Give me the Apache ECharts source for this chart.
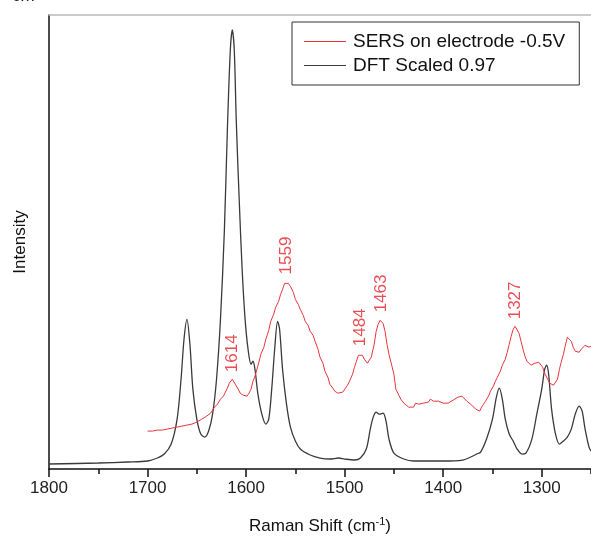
<!DOCTYPE html>
<html>
<head>
<meta charset="utf-8">
<script src="https://cdn.jsdelivr.net/npm/echarts@6/dist/echarts.min.js"></script>
<style>html,body{margin:0;padding:0;background:#fff}#c{width:591px;height:540px}</style>
</head>
<body>
<div id="c"></div>
<script>
// DFT Scaled 0.97 : [wavenumber, intensity]
const dftX = [1800,1750,1720,1700,1690,1683,1676,1670,1666,1663,1660,1657,1654,1650,1646,1642,1638,1634,1630,1626,1622,1619,1616,1614,1612,1610,1607,1604,1601,1598,1595,1593,1591,1588,1584,1580,1577,1574,1571,1568,1566,1563,1559,1555,1550,1545,1535,1525,1515,1506,1500,1490,1484,1478,1474,1471,1468,1465,1461,1458,1455,1450,1440,1430,1400,1380,1372,1366,1362,1356,1350,1346,1343,1340,1337,1333,1329,1325,1320,1316,1310,1305,1300,1297,1295,1293,1290,1286,1282,1278,1274,1270,1266,1262,1259,1256,1252,1250];
const dftY = [5,6,7,8,11,15,25,50,90,130,150,125,80,50,35,32,38,55,90,150,240,340,420,440,420,350,270,200,150,120,105,108,100,75,55,45,50,80,120,148,140,100,65,42,28,20,14,11,10,11,10,9,11,20,40,52,57,55,56,48,30,16,10,8,8,9,12,15,17,30,50,72,81,70,50,35,28,20,15,16,30,55,80,100,104,95,60,35,25,28,32,40,55,63,58,40,22,18];
// SERS on electrode -0.5V
const sersX = [1700,1695,1690,1685,1680,1675,1670,1665,1660,1655,1650,1645,1640,1636,1632,1629,1626,1623,1621,1619,1617,1614,1611,1608,1606,1603,1601,1599,1597,1595,1593,1591,1589,1587,1585,1582,1580,1577,1575,1572,1570,1567,1565,1563,1561,1559,1557,1555,1552,1550,1547,1545,1542,1540,1537,1535,1532,1530,1527,1525,1522,1520,1517,1515,1512,1510,1507,1505,1502,1500,1497,1495,1492,1490,1488,1486,1484,1482,1480,1477,1475,1473,1470,1468,1466,1464,1463,1461,1459,1457,1455,1452,1450,1448,1445,1443,1440,1438,1435,1433,1430,1428,1425,1423,1420,1418,1415,1413,1410,1408,1405,1403,1400,1398,1395,1393,1390,1388,1385,1383,1381,1379,1376,1374,1371,1370,1367,1365,1363,1361,1359,1357,1354,1352,1349,1347,1345,1342,1340,1337,1335,1333,1331,1329,1327,1325,1323,1321,1319,1317,1315,1313,1311,1309,1307,1305,1303,1301,1299,1297,1294,1292,1290,1288,1286,1284,1282,1280,1278,1276,1274,1272,1270,1268,1266,1264,1262,1260,1258,1256,1254,1252,1250];
const sersY = [38,38,39,39,40,41,42,43,44,45,47,50,53,56,62,65,70,73,77,81,86,90,85,80,76,74,72,73,76,80,88,93,100,107,115,122,130,139,148,155,162,168,175,180,186,188,186,183,177,170,165,160,154,148,144,138,134,128,120,112,106,98,92,85,81,78,76,75,77,78,84,88,95,102,108,114,116,114,110,106,107,112,125,138,145,149,150,146,138,125,115,103,95,80,74,70,66,64,62,63,62,66,65,67,66,68,67,70,68,67,68,68,66,67,66,67,69,70,72,74,73,71,68,66,64,63,60,58,58,62,65,68,73,78,83,88,92,98,104,110,117,125,133,140,143,141,136,128,120,113,108,106,104,105,106,107,107,106,102,96,90,86,85,84,86,90,100,108,115,124,132,133,128,122,118,116,117,120,122,124,123,122,123,125];
// peak annotations (wavenumber)
const peakLabels = [1614,1559,1484,1463,1327];
const xMajorTicks = [1800,1700,1600,1500,1400,1300];
const seriesNames = ['SERS on electrode -0.5V','DFT Scaled 0.97'];

const RED = '#e8353c', BLACK = '#3a3a3a';
const FONT = 'Liberation Sans, Arial, sans-serif';
const dft = dftX.map((x,i)=>[x,dftY[i]]);
const sers = sersX.map((x,i)=>[x,sersY[i]]);
const peaks = peakLabels.map(p=>{ const i = sersX.indexOf(p); return [p, sersY[i]]; });

const chart = echarts.init(document.getElementById('c'), null, {renderer:'canvas'});
chart.setOption({
  animation:false,
  backgroundColor:'#fff',
  textStyle:{fontFamily:FONT},
  grid:{left:49, right:0, top:15, bottom:71},
  graphic:[{type:'text', left:12, top:-12, style:{text:'cm⁻¹', fontSize:17, fontFamily:FONT, fill:'#222'}}],
  legend:{
    data:seriesNames, orient:'vertical', left:292, top:22,
    padding:[10,14,10,12], itemGap:5, itemWidth:42, itemHeight:14,
    borderColor:'#333', borderWidth:1, backgroundColor:'#fff',
    textStyle:{fontSize:19, color:'#111', fontFamily:FONT, padding:[0,0,0,2]},
    icon:'path://M0,7L42,7L42,8L0,8Z'
  },
  xAxis:[
    {type:'value', min:1250, max:1800, inverse:true,
     name:'Raman Shift (cm{sup|-1}{p|)}', nameLocation:'middle', nameGap:47,
     nameTextStyle:{fontSize:17, color:'#111', fontFamily:FONT,
       rich:{sup:{fontSize:11, verticalAlign:'top', padding:[0,0,10,0], color:'#111', fontFamily:FONT}, p:{fontSize:17,color:'#111',fontFamily:FONT}}},
     axisLine:{show:true, onZero:false, lineStyle:{color:'#111', width:1.5}},
     axisTick:{show:true, customValues:xMajorTicks, length:8, lineStyle:{color:'#111', width:1.5}},
     axisLabel:{customValues:xMajorTicks, fontSize:17, color:'#222', margin:11, fontFamily:FONT, formatter:v=>String(v)},
     splitLine:{show:false}},
    {type:'value', min:1250, max:1800, inverse:true, interval:50, position:'bottom',
     axisLine:{show:false}, axisLabel:{show:false}, splitLine:{show:false},
     axisTick:{show:true, length:5, lineStyle:{color:'#111', width:1.5}}},
    {type:'value', min:1250, max:1800, inverse:true, position:'top',
     axisLine:{show:true, onZero:false, lineStyle:{color:'#bbb', width:1.5}},
     axisTick:{show:false}, axisLabel:{show:false}, splitLine:{show:false}}
  ],
  yAxis:{type:'value', min:0, max:455, name:'Intensity', nameLocation:'middle', nameGap:20,
     nameTextStyle:{fontSize:17, color:'#111', fontFamily:FONT},
     axisLine:{show:true, lineStyle:{color:'#111', width:1.5}},
     axisTick:{show:false}, axisLabel:{show:false}, splitLine:{show:false}},
  series:[
    {name:seriesNames[0], type:'line', data:sers, symbol:'none', smooth:false,
     lineStyle:{color:RED, width:1}, itemStyle:{color:RED}, z:3},
    {name:seriesNames[1], type:'line', data:dft, symbol:'none', smooth:0.3,
     lineStyle:{color:BLACK, width:1.3}, itemStyle:{color:BLACK}, z:2},
    {name:'peaks', type:'scatter', data:peaks, symbol:'circle', symbolSize:2, silent:true,
     itemStyle:{color:'rgba(0,0,0,0)'}, z:4, labelLayout:{hideOverlap:false},
     label:{show:true, position:'top', distance:6, offset:[2,0], rotate:90, align:'left', verticalAlign:'middle',
       formatter:p=>String(p.value[0]), color:'#e3222a', fontSize:17, fontFamily:FONT}}
  ]
});
</script>
</body>
</html>
